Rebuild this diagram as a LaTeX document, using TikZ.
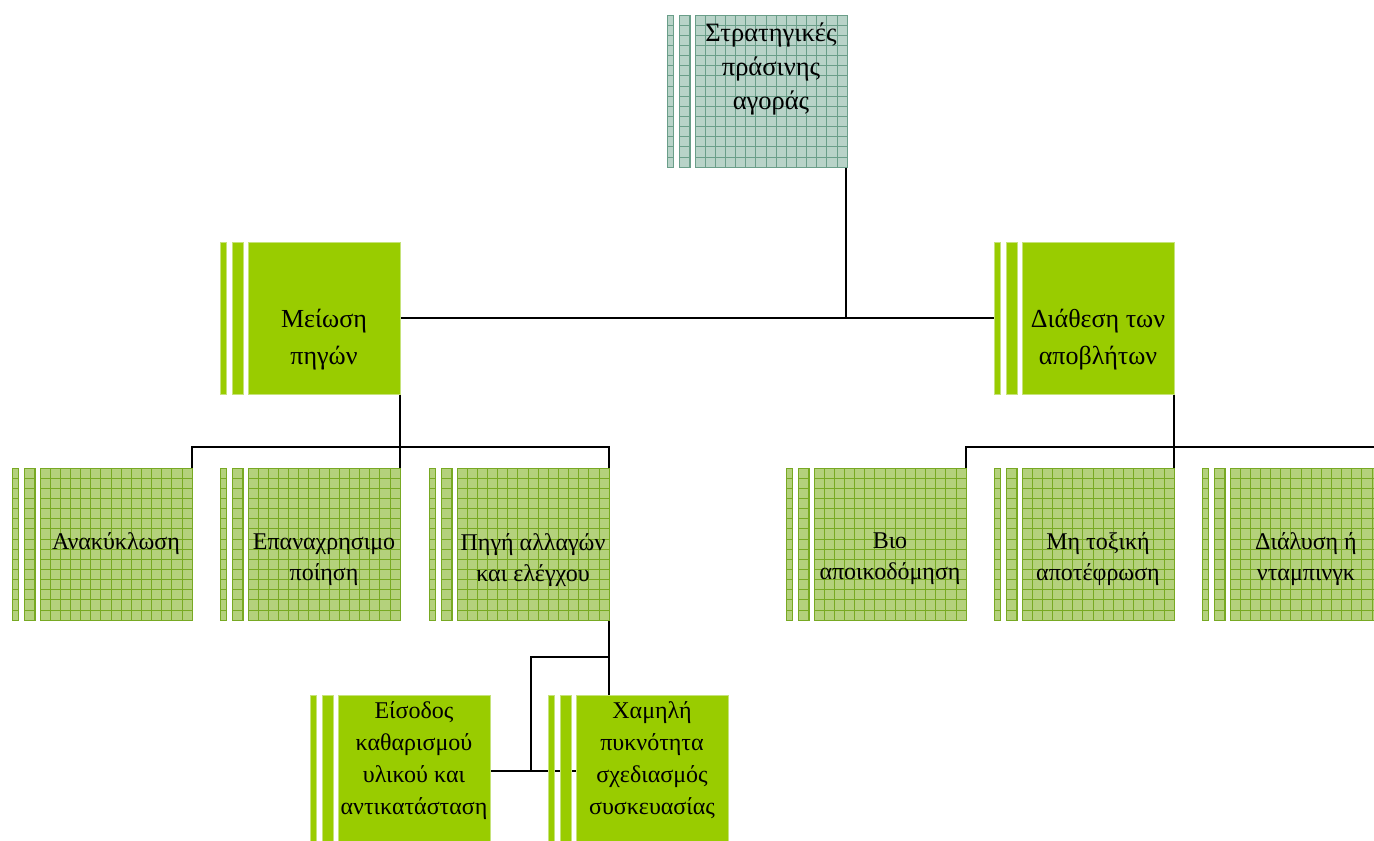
\documentclass[tikz,border=0pt]{standalone}
\usepackage{fontspec}
\setmainfont{Liberation Serif}
\usetikzlibrary{calc,backgrounds}
\definecolor{gfill}{HTML}{B4D17C}
\definecolor{gline}{HTML}{78A923}
\definecolor{tfill}{HTML}{B8D3C8}
\definecolor{tline}{HTML}{6A9E89}
\definecolor{solidg}{HTML}{99CC00}
\definecolor{solidedge}{HTML}{C6E37A}
\tikzset{
  box/.style={minimum width=152pt, minimum height=152pt, inner sep=0pt, outer sep=0pt},
  gridlines/.style={path picture={
      \path (path picture bounding box.north west) coordinate (ppnw);
      \foreach \i in {1,...,15} {
        \draw[#1, line width=0.7pt] ($(ppnw)+(\i*10.133,-2)$) -- ++(0,160);
        \draw[#1, line width=0.7pt] ($(ppnw)+(-2,\i*10.133)$) -- ++(160,0);
      }}},
  greenbox/.style={box, fill=gfill, draw=gline, line width=0.9pt, gridlines=gline},
  tealbox/.style={box, fill=tfill, draw=tline, line width=0.9pt, gridlines=tline},
  solidbox/.style={box, fill=solidg, draw=solidedge, line width=0.6pt},
  lbl/.style={align=center, inner sep=0pt, text=black},
  ftop/.style={font=\fontsize{26.5pt}{34pt}\selectfont},
  fmid/.style={font=\fontsize{26pt}{37pt}\selectfont},
  fthird/.style={font=\fontsize{24pt}{31pt}\selectfont},
  fbot/.style={font=\fontsize{24pt}{32pt}\selectfont},
  conn/.style={draw=black, line width=1.1pt}
}
% #1 name, #2 box style, #3 x, #4 y, #5 font style, #6 text y offset, #7 text
\newcommand\mybox[7]{%
  \node[#2] (#1) at (#3,#4) {};
  \node[#2, minimum width=6pt, anchor=north west] (#1-a) at ([xshift=-28pt]#1.north west) {};
  \node[#2, minimum width=11pt, anchor=north west] (#1-b) at ([xshift=-16pt]#1.north west) {};
  \node[lbl, #5] (#1-t) at ([yshift=#6]#1.center) {#7};
}
\begin{document}
\begin{tikzpicture}[x=1pt, y=-1pt]
\useasboundingbox (0,0) rectangle (1374,841);
\clip (0,0) rectangle (1374,841);

\mybox{top}{tealbox}{771}{91}{ftop}{22pt}{Στρατηγικές\\πράσινης\\αγοράς}

\mybox{meiosi}{solidbox}{324}{318}{fmid}{-22pt}{Μείωση\\πηγών}
\mybox{diathesi}{solidbox}{1098}{318}{fmid}{-22pt}{Διάθεση των\\αποβλήτων}

\mybox{anak}{greenbox}{116}{544}{fthird}{0pt}{Ανακύκλωση}
\mybox{epan}{greenbox}{324}{544}{fthird}{-16pt}{Επαναχρησιμο\\ποίηση}
\mybox{pigi}{greenbox}{533}{544}{fthird}{-16pt}{Πηγή αλλαγών\\και ελέγχου}
\mybox{bio}{greenbox}{890}{544}{fthird}{-15pt}{Βιο\\αποικοδόμηση}
\mybox{mitox}{greenbox}{1098}{544}{fthird}{-15pt}{Μη τοξική\\αποτέφρωση}
\mybox{dial}{greenbox}{1306}{544}{fthird}{-15pt}{Διάλυση ή\\νταμπινγκ}

\mybox{eis}{solidbox}{414}{771}{fbot}{10pt}{Είσοδος\\καθαρισμού\\υλικού και\\αντικατάσταση}
\mybox{xam}{solidbox}{652}{771}{fbot}{11pt}{Χαμηλή\\πυκνότητα\\σχεδιασμός\\συσκευασίας}

\begin{scope}[on background layer]
  \draw[conn] ([xshift=-1pt]top.south east) -- ([xshift=-1pt]top.south east |- meiosi.east);
  \draw[conn] (meiosi.east) -- (diathesi-a.west);
  % Meiosi children
  \draw[conn] (meiosi.south east) -- (epan.north east);
  \draw[conn] (anak.north east) -- ++(0,-21) -| (pigi.north east);
  % Diathesi children
  \draw[conn] (diathesi.south east) -- (mitox.north east);
  \draw[conn] (bio.north east) -- ++(0,-21) -| (dial.north east);
  % Pigi children
  \coordinate (pj) at ([yshift=-37pt]pigi.south east);
  \draw[conn] (pigi.south east) -- (pigi.south east |- xam.north);
  \draw[conn] (pj) -- ++(-78,0) coordinate (pk) -- (pk |- eis.east);
  \draw[conn] (eis.east) -- (xam.west);
\end{scope}
\end{tikzpicture}
\end{document}
